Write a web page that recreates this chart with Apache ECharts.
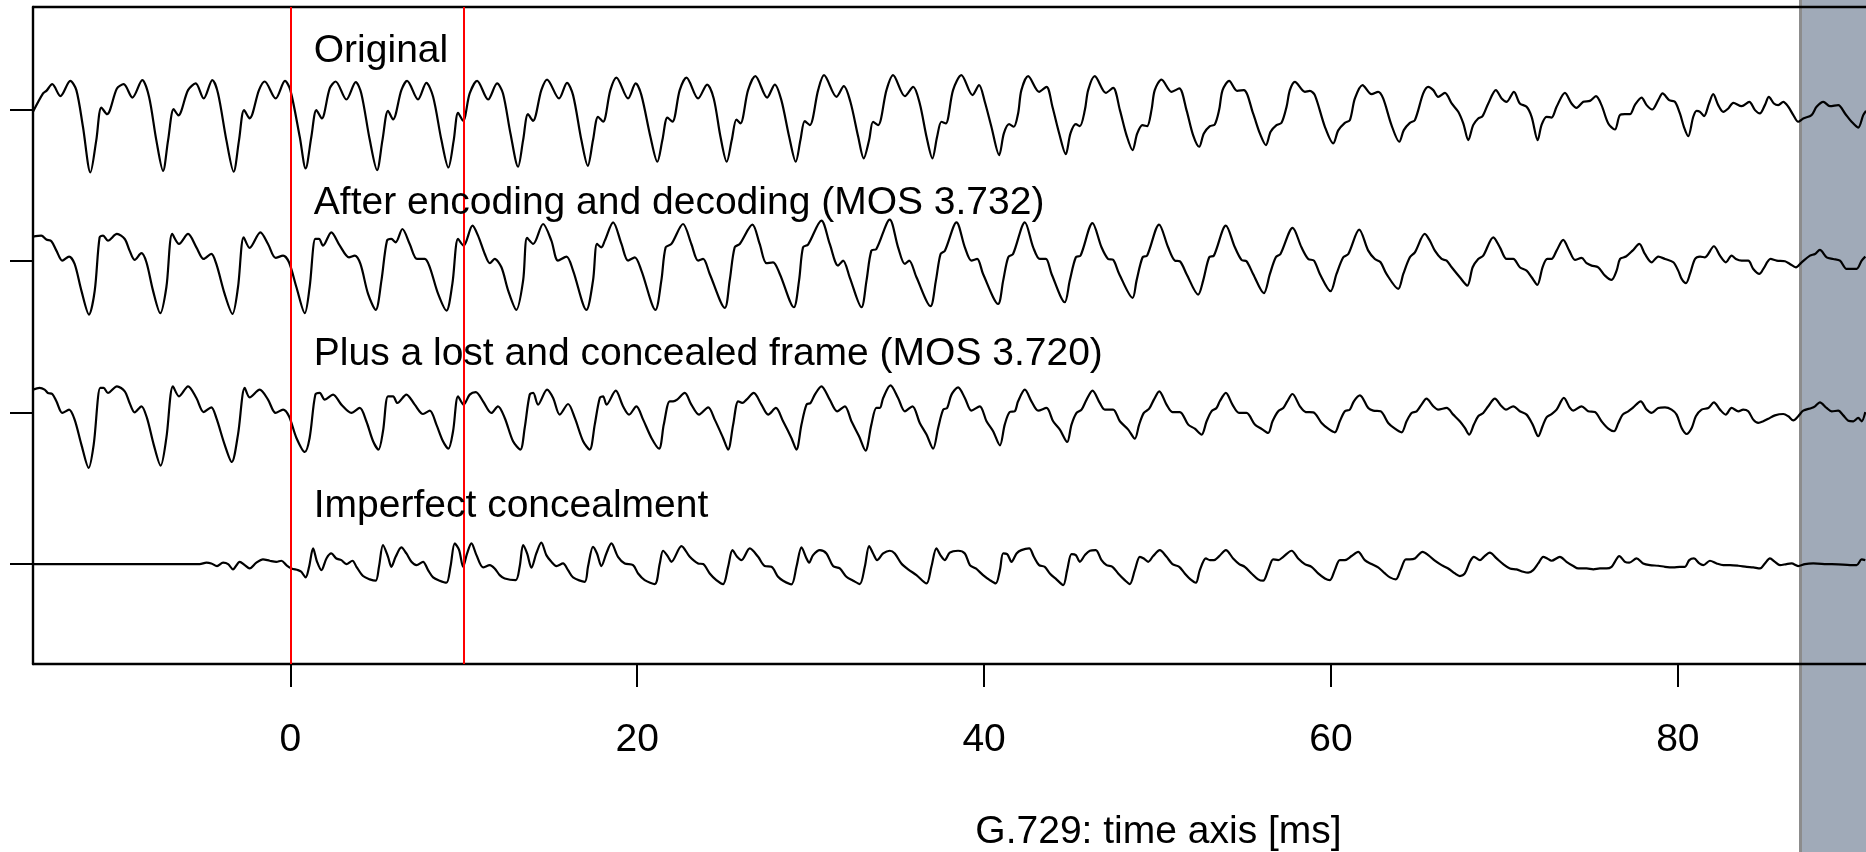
<!DOCTYPE html>
<html>
<head>
<meta charset="utf-8">
<script src="https://cdn.jsdelivr.net/npm/echarts@6/dist/echarts.min.js"></script>
<style>
html,body{margin:0;padding:0;background:#fff;}
#c{width:1866px;height:852px;}
</style>
</head>
<body>
<div id="c"></div>
<script>
// ---- data (time in ms, amplitude in arbitrary units; traces are stacked 100 units apart) ----
const xTicks = [0, 20, 40, 60, 80];
const traceOffsets = [300, 200, 100, 0];
const traceLabels = [
  'Original',
  'After encoding and decoding (MOS 3.732)',
  'Plus a lost and concealed frame (MOS 3.720)',
  'Imperfect concealment'
];
const lostFrame = [0, 10];
const axisTitle = 'G.729: time axis [ms]';

const original = [
[-14.84,-1.3],[-14.26,10.8],[-14.07,12.5],[-13.73,16.9],[-13.26,9.0],[-12.69,19.1],[-12.34,13],[-11.96,-11.2],[-11.53,-41.4],[-11.19,-20],
[-10.90,1.5],[-10.57,-2.9],[-10.0,14.1],[-9.61,16.9],[-9.11,8.1],[-8.54,19.6],[-8.15,8.6],[-7.73,-20],[-7.34,-40.3],[-7.05,-20],
[-6.73,0.4],[-6.46,-3.7],[-5.90,13],[-5.46,17.4],[-5.0,7.5],[-4.50,19.6],[-4.17,10.8],[-3.69,-20],[-3.27,-40.9],[-2.96,-20],
[-2.67,-0.2],[-2.35,-5.7],[-1.81,13],[-1.48,18.7],[-0.85,7.5],[-0.31,19.1],[0,13],[0.54,-17.8],[0.88,-38.7],[1.21,-17.8],
[1.50,-0.2],[1.81,-5.7],[2.27,14.1],[2.61,18.7],[3.23,6.8],[3.77,18.3],[4.09,10.8],[4.58,-20],[5.0,-39.8],[5.31,-20],
[5.63,-0.7],[5.92,-6.4],[6.40,13],[6.73,19.1],[7.36,6.8],[7.84,17.8],[8.23,8.6],[8.71,-20],[9.11,-38.1],[9.42,-20],
[9.67,-2],[9.96,-7.3],[10.34,10.8],[10.77,19.1],[11.40,6.8],[11.92,17.4],[12.26,10.8],[12.69,-15.6],[13.13,-37.6],[13.42,-20],
[13.70,-2.9],[13.99,-7.3],[14.47,13],[14.80,20],[15.49,7.5],[15.95,17.8],[16.30,9.7],[16.78,-20],[17.15,-37],[17.45,-20],
[17.74,-4.6],[18.03,-7.9],[18.45,13],[18.80,21.3],[19.47,7.5],[19.91,17.4],[20.24,9.7],[20.76,-17.8],[21.16,-34.3],[21.45,-20],
[21.74,-5.1],[22.03,-7.9],[22.45,13],[22.84,21.3],[23.51,7.5],[24.03,16.7],[24.41,7.5],[24.80,-17.8],[25.16,-34.3],[25.45,-20],
[25.72,-6.4],[25.95,-9],[26.39,13],[26.81,22.2],[27.49,8.1],[27.93,16.7],[28.31,6.4],[28.76,-17.8],[29.14,-34.3],[29.41,-20],
[29.66,-7.5],[29.95,-10.1],[30.43,13],[30.77,22.9],[31.49,8.6],[31.91,15.6],[32.29,5.3],[32.74,-17.8],[33.06,-32.1],[33.37,-20],
[33.60,-7.9],[33.89,-10.1],[34.37,13],[34.75,22.9],[35.43,9],[35.91,15.2],[36.29,4.2],[36.68,-17.8],[37.02,-32.1],[37.29,-17.8],
[37.54,-7.9],[37.79,-9],[38.21,13],[38.69,22.9],[39.33,9.7],[39.71,16.3],[40.04,5.3],[40.42,-11.2],[40.87,-29.9],[41.14,-15.6],
[41.44,-9.5],[41.71,-11.2],[41.96,-2.4],[42.15,13],[42.54,22.2],[43.17,11.9],[43.60,15.2],[43.94,2],[44.33,-15.6],[44.71,-29.3],
[44.98,-15.6],[45.29,-9.5],[45.52,-10.8],[45.81,-0.2],[46.0,13],[46.38,22.2],[47.02,11.2],[47.44,14.5],[47.83,-0.2],[48.21,-16.7],
[48.56,-26.6],[48.83,-15.6],[49.13,-10.1],[49.40,-10.8],[49.65,-0.2],[49.84,13],[50.23,20],[50.81,11.9],[51.25,14.1],[51.67,-0.2],
[52.05,-16.7],[52.40,-24.4],[52.67,-15.6],[53.02,-10.8],[53.30,-9.7],[53.55,-0.2],[53.75,13],[54.13,19.1],[54.59,12.5],[54.98,13],
[55.51,-2.4],[55.90,-15.6],[56.25,-23.3],[56.52,-14.5],[56.86,-10.1],[57.15,-8.6],[57.44,2],[57.63,13],[57.92,18.5],[58.50,11.9],
[58.78,12.5],[59.07,9.7],[59.65,-11.2],[60.13,-22.2],[60.42,-13.6],[60.80,-8.6],[61.09,-6.8],[61.38,7.5],[61.82,16.3],[62.34,10.3],
[62.72,11.9],[63.01,7.5],[63.49,-10.1],[63.94,-21.1],[64.20,-13.4],[64.55,-8.6],[64.84,-6.8],[65.32,10.8],[65.61,15.2],[65.90,13],
[66.18,8.6],[66.57,11.2],[66.96,4.2],[67.34,-1.3],[67.63,-9],[67.92,-20],[68.20,-10.1],[68.49,-5.7],[68.74,-4.2],[69.07,4.2],
[69.51,13],[69.84,7.5],[70.13,5.3],[70.55,11.9],[70.89,4.2],[71.28,2],[71.57,-4.6],[71.92,-20],[72.14,-10.1],[72.43,-4.6],
[72.72,-5.1],[73.01,2],[73.49,11.2],[73.87,4.2],[74.16,1.3],[74.55,5.3],[74.93,5.9],[75.28,9],[75.60,3.1],[75.99,-9],
[76.37,-13],[76.66,-3.5],[76.95,-2.9],[77.24,-2.9],[77.52,3.1],[77.91,8.1],[78.20,3.1],[78.52,0.2],[78.87,6.4],[79.12,10.8],
[79.50,6.4],[79.83,5.3],[80.12,-2.4],[80.35,-11.2],[80.60,-17.4],[80.89,-4.6],[81.08,-0.7],[81.28,-1.3],[81.51,-4.2],[81.80,4.2],
[82.04,10.3],[82.33,3.1],[82.62,-1.3],[82.91,0.9],[83.20,4.6],[83.68,2.4],[84.12,5.3],[84.45,-0.2],[84.73,-2.4],[85.02,3.1],
[85.25,8.6],[85.54,4.2],[85.79,3.1],[86.08,5.3],[86.37,2],[86.66,-3.5],[86.94,-7.9],[87.23,-5.7],[87.71,-3.5],[88.0,2],
[88.39,5.3],[88.77,2.4],[89.25,3.1],[89.64,-2.4],[90.02,-7.9],[90.40,-11.7],[90.69,-3.5],[90.85,-0.7]
];

const encodedDecoded = [
[-14.84,16.3],[-14.36,16.9],[-14.07,14.3],[-13.78,13.2],[-13.49,7],[-13.15,0.4],[-12.76,3.1],[-12.44,-1.8],[-12.05,-19.4],[-11.61,-35.2],
[-11.28,-19.4],[-11.0,15.8],[-10.80,16.9],[-10.52,13.6],[-10.0,18],[-9.55,14.7],[-9.27,7],[-8.98,0.9],[-8.59,5.3],[-8.30,-0.7],
[-7.92,-19.4],[-7.50,-34.3],[-7.15,-17.2],[-6.81,18],[-6.42,11.4],[-5.90,18],[-5.42,9.2],[-5.0,1.5],[-4.56,4.8],[-4.27,-1.8],
[-3.79,-21.6],[-3.34,-34.8],[-3.02,-17.2],[-2.69,15.8],[-2.35,8.8],[-1.73,19.1],[-1.29,11.4],[-0.85,2.2],[-0.42,3.7],[-0.08,-0.7],
[0.35,-17.2],[0.83,-34.3],[1.11,-17.2],[1.44,14.7],[1.65,14.7],[1.88,10.3],[2.36,19.1],[2.85,10.3],[3.38,2.6],[3.71,3.7],
[4.04,-1.8],[4.48,-21.6],[4.92,-32.1],[5.25,-12.8],[5.57,13.6],[5.82,14.7],[6.07,12.5],[6.46,21.3],[6.88,11.4],[7.30,1.5],
[7.75,1.5],[8.04,-4],[8.52,-21.6],[9.00,-32.6],[9.34,-15],[9.67,14.7],[9.99,10.3],[10.50,23.5],[10.82,16.9],[11.21,4.8],
[11.50,-1.3],[11.78,1.5],[12.17,-4],[12.56,-19.4],[13.03,-32.1],[13.42,-12.8],[13.65,15.4],[14.0,11.4],[14.57,24.6],[15.05,13.6],
[15.43,0.4],[15.92,3.1],[16.30,-6.2],[17.07,-32.1],[17.45,-12.8],[17.68,11.4],[17.93,9.2],[18.13,13.6],[18.61,25.7],[19.09,11.4],
[19.47,0.4],[19.86,2.6],[20.24,-6.2],[21.05,-32.1],[21.39,-12.8],[21.64,9.2],[21.97,11.4],[22.64,24.6],[23.12,11.4],[23.51,0.4],
[23.80,1.5],[24.18,-8.4],[25.05,-30.8],[25.33,-12.8],[25.62,9.2],[25.91,11.4],[26.64,24.2],[27.06,11.4],[27.45,-1.3],[27.83,-0.7],
[28.22,-8.4],[29.03,-30.4],[29.33,-12.8],[29.56,9.2],[29.85,11],[30.62,26.8],[31.10,11.4],[31.58,-2.9],[31.87,0.4],[32.25,-10.6],
[32.93,-30.4],[33.22,-12.8],[33.50,7],[33.79,8.1],[34.56,27.5],[35.04,9.2],[35.43,-1.8],[35.68,0.4],[36.10,-10.6],[36.91,-29.7],
[37.22,-12.8],[37.49,4.8],[37.74,7],[38.41,25.7],[38.89,9.2],[39.27,0.4],[39.60,1.5],[39.94,-8.4],[40.81,-28.2],[41.10,-12.8],
[41.39,2.6],[41.67,4.8],[42.35,25.7],[42.83,9.2],[43.21,1.5],[43.56,1.5],[43.89,-8.4],[44.65,-27.1],[44.94,-12.8],[45.29,2.6],
[45.56,3.7],[46.25,25.1],[46.77,9.2],[47.15,1.5],[47.44,0.9],[47.79,-8.4],[48.56,-24.2],[48.79,-12.8],[49.14,2.6],[49.40,3.7],
[50.09,24.2],[50.61,9.2],[51.0,0.4],[51.28,0],[51.67,-8.4],[52.34,-22],[52.63,-12.8],[52.98,2.6],[53.25,3.7],[53.94,23.5],
[54.46,9.2],[54.84,0.9],[55.13,0],[55.51,-8.4],[56.13,-21.1],[56.48,-8.4],[56.82,2.6],[57.09,4.8],[57.79,22],[58.30,9.2],
[58.69,1.5],[59.02,0.4],[59.36,-8.4],[59.98,-19.8],[60.32,-8.4],[60.71,2.6],[61.0,4.8],[61.63,20.9],[62.15,7],[62.53,1.5],
[62.86,-0.7],[63.20,-8.4],[63.88,-18.3],[64.17,-8.4],[64.55,2.6],[64.84,5.9],[65.41,18],[65.70,13.6],[65.99,7],[66.38,1.5],
[66.67,0.4],[66.96,-4],[67.43,-10.6],[67.86,-16.1],[68.17,-4],[68.49,1.5],[68.78,3.7],[69.36,15.8],[69.74,9.2],[70.13,1.5],
[70.51,1.5],[70.89,-4],[71.28,-6.2],[71.57,-10.6],[71.90,-15.6],[72.20,-4],[72.47,1.5],[72.72,1.5],[73.01,7],[73.39,14.1],
[73.74,7],[74.07,0.9],[74.45,2.2],[74.74,-1.3],[75.03,-2.9],[75.41,-4],[75.80,-9.5],[76.18,-12.3],[76.47,-6.2],[76.67,1.5],
[77.01,3.1],[77.39,7],[77.78,11.4],[78.10,4.8],[78.49,-0.7],[78.87,3.1],[79.26,1.5],[79.74,-0.7],[80.02,-6.2],[80.22,-11.7],
[80.47,-14.5],[80.70,-8.4],[80.99,1.5],[81.28,3.1],[81.56,2.6],[82.08,9.9],[82.43,3.7],[82.77,-0.7],[83.10,3.7],[83.35,1.5],
[83.68,0.4],[84.06,0.4],[84.35,-5.1],[84.70,-8.4],[84.93,-5.1],[85.35,1.5],[85.70,0.4],[86.18,0],[86.46,-1.8],[86.81,-4],
[87.14,-0.7],[87.62,3.7],[87.91,4.8],[88.19,7.5],[88.58,2.6],[88.96,1.5],[89.35,0.4],[89.73,-5.1],[90.02,-5.1],[90.31,-5.1],
[90.60,0.4],[90.81,3.1]
];

const lostConcealed = [
[-14.84,15.2],[-14.46,16.3],[-14.17,15.2],[-13.98,13],[-13.73,12.3],[-13.49,7.5],[-13.15,-0.2],[-12.76,2],[-12.44,-4.6],[-12.05,-21.1],
[-11.63,-36.5],[-11.34,-21.1],[-10.96,16.3],[-10.77,16.3],[-10.52,13],[-10.0,17.4],[-9.55,14.1],[-9.27,6.4],[-8.98,0.2],[-8.59,4.2],
[-8.27,-3.5],[-7.88,-21.1],[-7.48,-35],[-7.15,-16.7],[-6.77,17.4],[-6.42,10.8],[-5.90,17.4],[-5.42,9.7],[-5.0,0.4],[-4.56,3.5],
[-4.27,-3.5],[-3.79,-21.1],[-3.38,-32.6],[-3.02,-14.5],[-2.63,16.3],[-2.35,10.1],[-1.77,15.2],[-1.29,8.6],[-0.85,-0.2],[-0.42,2],
[-0.08,-2.4],[0.35,-16.7],[0.83,-26],[1.11,-16.7],[1.44,11.9],[1.69,13],[1.98,8.6],[2.46,11.9],[2.94,5.3],[3.52,-0.2],
[4.0,3.1],[4.38,-5.7],[4.77,-18.9],[5.08,-24.4],[5.34,-12.3],[5.63,10.8],[5.92,10.8],[6.17,6.4],[6.69,11.9],[7.17,5.3],
[7.65,-0.9],[8.04,1.3],[8.42,-7.9],[8.80,-18.9],[9.11,-23.8],[9.38,-12.3],[9.67,10.8],[9.99,5.3],[10.34,11.9],[10.69,13.6],
[11.11,7.5],[11.59,-0.2],[11.97,4.2],[12.36,-3.5],[12.84,-18.9],[13.26,-24.4],[13.51,-10.1],[13.80,11.9],[14.0,13],[14.28,5.3],
[14.80,15.2],[15.15,9.7],[15.53,-1.3],[16.01,5.7],[16.40,-3.5],[16.88,-18.9],[17.26,-24.4],[17.55,-7.9],[17.84,9.7],[18.03,10.8],
[18.23,5.3],[18.76,14.5],[19.18,4.2],[19.53,-1.3],[19.95,4.2],[20.34,-4.6],[20.82,-16.7],[21.26,-23.8],[21.53,-7.9],[21.87,7.5],
[22.07,7.5],[22.30,8.6],[22.74,13],[23.12,5.3],[23.56,-1.3],[24.09,3.5],[24.47,-4.6],[24.95,-16.7],[25.24,-24.4],[25.53,-7.9],
[25.82,7.5],[26.06,6.4],[26.30,8.6],[26.72,13],[27.16,5.3],[27.55,-1.3],[27.99,3.1],[28.41,-5.7],[28.89,-16.7],[29.18,-24.4],
[29.47,-7.9],[29.76,5.3],[29.99,6.4],[30.24,11.9],[30.62,17.4],[31.10,8.6],[31.53,0.9],[31.97,4.2],[32.35,-5.7],[32.79,-15.6],
[33.16,-25.1],[33.50,-7.9],[33.79,3.1],[33.99,3.1],[34.18,9.7],[34.60,18],[35.04,9.7],[35.43,0.9],[35.87,4.2],[36.29,-6.8],
[36.68,-14.5],[37.06,-23.8],[37.35,-10.1],[37.64,2],[37.87,3.1],[38.12,11.9],[38.50,16.7],[38.89,9.7],[39.27,1.3],[39.75,4.2],
[40.14,-5.7],[40.52,-12.3],[40.91,-21.6],[41.19,-7.9],[41.48,0.4],[41.77,0.9],[41.96,7.5],[42.35,15.2],[42.73,7.5],[43.12,1.3],
[43.60,3.1],[43.98,-5.7],[44.37,-11.2],[44.79,-19.4],[45.04,-7.9],[45.33,-0.2],[45.62,2],[45.91,8.6],[46.25,14.5],[46.67,6.4],
[46.96,2],[47.44,2],[47.83,-5.7],[48.31,-11.2],[48.69,-17.2],[48.94,-7.9],[49.21,-0.2],[49.52,2.6],[49.79,8.6],[50.10,14.1],
[50.52,5.3],[50.86,0.4],[51.29,0.4],[51.77,-7.9],[52.15,-10.6],[52.54,-14.5],[52.83,-5.7],[53.11,0.9],[53.40,3.1],[53.59,7.5],
[53.94,13],[54.32,5.3],[54.70,-0.2],[55.13,-0.2],[55.61,-7.9],[55.99,-10.6],[56.38,-13.4],[56.63,-5.7],[56.96,0.9],[57.25,3.1],
[57.48,7.5],[57.78,12.3],[58.21,4.2],[58.55,0.4],[58.98,0.2],[59.46,-6.8],[59.84,-10.6],[60.22,-13],[60.51,-5.7],[60.80,0.9],
[61.09,2],[61.32,7.5],[61.67,11.4],[62.15,3.1],[62.44,1.3],[62.86,0.9],[63.30,-6.8],[63.69,-10.6],[64.07,-13],[64.36,-5.7],
[64.65,-0.2],[64.94,0.9],[65.22,5.3],[65.51,9.2],[65.90,4.2],[66.18,2],[66.67,3.1],[67.05,-1.3],[67.43,-5.7],[67.72,-10.1],
[67.97,-14.5],[68.24,-7.9],[68.49,-2.4],[68.78,-0.2],[69.07,4.2],[69.45,9.2],[69.84,4.2],[70.09,2],[70.51,4.2],[70.89,0.9],
[71.28,-1.3],[71.63,-7.9],[71.95,-15.6],[72.20,-9],[72.43,-3.1],[72.72,-0.9],[73.01,2],[73.43,9.7],[73.78,3.1],[73.97,1.3],
[74.45,4.2],[74.83,0.9],[75.22,0.4],[75.60,-5.7],[75.99,-10.6],[76.32,-12.3],[76.57,-6.8],[76.82,-1.3],[77.14,0.9],[77.43,3.5],
[77.86,7.5],[78.20,2],[78.49,-0.2],[78.87,3.1],[79.26,3.5],[79.64,2],[79.93,-1.3],[80.22,-10.1],[80.51,-14.1],[80.80,-10.1],
[81.04,-2.4],[81.37,2],[81.76,3.1],[82.08,6.8],[82.43,2],[82.76,-1.3],[83.10,3.1],[83.49,0.9],[83.77,2],[84.06,0.9],
[84.35,-4.6],[84.64,-6.8],[84.93,-5.7],[85.22,-4],[85.60,-1.8],[86.08,-0.9],[86.37,-2.4],[86.66,-5.1],[86.94,-2.4],[87.23,1.3],
[87.71,3.1],[87.91,4.2],[88.19,6.8],[88.58,3.1],[88.87,0.9],[89.25,1.3],[89.54,-1.8],[89.83,-5.3],[90.12,-5.7],[90.40,-3.5],
[90.60,-5.7],[90.81,0.4]
];

const imperfect = [
[-14.84,0],[-5.23,0],[-4.84,0.9],[-4.56,0.4],[-4.23,-1.3],[-3.88,0.9],[-3.59,0],[-3.31,-3.5],[-2.92,1.5],[-2.63,-0.7],
[-2.35,-2.9],[-1.96,0.9],[-1.58,3.1],[-1.19,2.2],[-0.81,1.5],[-0.52,2.2],[-0.23,-0.7],[0.06,-2.9],[0.44,-4],[0.63,-5.1],
[0.88,-8.8],[1.08,-1.8],[1.31,10.3],[1.54,1.5],[1.79,-4],[2.08,3.7],[2.36,7],[2.65,3.7],[2.94,2.6],[3.23,0],
[3.58,2.2],[3.81,-1.8],[4.19,-7.9],[4.58,-10.1],[4.92,-11],[5.11,-1.8],[5.34,12.5],[5.63,4.8],[5.82,-1.8],[6.07,4.8],
[6.40,11],[6.69,7],[6.98,1.5],[7.27,-0.7],[7.65,1.5],[7.94,-4],[8.23,-8.8],[8.61,-11],[9.0,-12.3],[9.23,-1.8],
[9.48,13.6],[9.73,9.2],[9.96,-1.8],[10.19,7],[10.44,13.6],[10.73,5.9],[11.11,-2.2],[11.50,-0.7],[11.78,-2.9],[12.07,-7.3],
[12.36,-9.5],[12.99,-10.6],[13.22,-1.8],[13.42,12.5],[13.65,7],[13.90,-2.4],[14.18,7],[14.47,14.1],[14.76,5.9],[15.05,1.5],
[15.34,-1.3],[15.72,0.4],[16.01,-4],[16.30,-8.8],[16.97,-11.7],[17.16,-1.8],[17.45,11.4],[17.68,7],[17.93,-1.3],[18.22,7],
[18.51,13.6],[18.89,4.8],[19.28,0.4],[19.76,-0.7],[20.05,-6.2],[20.43,-10.6],[21.01,-13.2],[21.30,0.4],[21.49,8.8],[21.78,4.8],
[21.97,1.5],[22.55,11.9],[23.03,4.8],[23.51,0.4],[23.80,0],[24.18,-6.2],[24.56,-10.6],[24.95,-13.2],[25.24,-1.8],[25.49,9.2],
[25.76,4.8],[26.01,2.6],[26.49,10.3],[26.97,4.8],[27.35,-1.3],[27.74,-1.8],[28.12,-8.4],[28.41,-11],[28.89,-13.4],[29.18,-1.8],
[29.47,11],[29.76,3.7],[29.91,0.9],[30.14,5.9],[30.53,9.2],[30.91,7],[31.29,-1.3],[31.68,-2.9],[32.06,-8.4],[32.45,-11],
[32.83,-13.2],[33.12,-1.8],[33.37,11.9],[33.60,7],[33.83,2.6],[34.18,7],[34.56,8.8],[34.85,7],[35.23,0.4],[35.62,-3.5],
[36.10,-7.3],[36.68,-12.8],[36.96,-1.8],[37.25,10.3],[37.48,5.9],[37.73,2.6],[38.02,7.5],[38.50,8.8],[38.89,7],[39.18,-0.7],
[39.52,-2.9],[39.94,-7.3],[40.33,-10.6],[40.67,-12.8],[40.91,-4],[41.10,7],[41.33,6.6],[41.58,1.5],[41.87,7],[42.15,9.2],
[42.60,10.3],[42.87,4.8],[43.17,-0.7],[43.50,-1.8],[43.79,-6.2],[44.17,-10.1],[44.56,-13.9],[44.79,-4],[45.04,6.6],[45.29,5.9],
[45.52,1.5],[45.81,5.9],[46.10,8.8],[46.44,9.2],[46.77,2.6],[47.06,-0.7],[47.40,-1.8],[47.73,-6.2],[48.11,-10.6],[48.40,-13.2],
[48.69,-4],[48.98,4.8],[49.21,3.7],[49.46,1.5],[49.75,5.3],[50.13,9.2],[50.52,4.8],[50.86,0],[51.25,-1.8],[51.57,-6.2],
[51.90,-10.1],[52.21,-12.3],[52.44,-4],[52.79,3.7],[53.02,2.6],[53.25,2.6],[53.56,5.3],[53.94,9.2],[54.36,3.7],[54.71,0],
[55.03,-1.8],[55.42,-6.2],[55.80,-10.1],[56.09,-11],[56.38,-4],[56.67,3.1],[56.96,2.6],[57.25,4.8],[57.73,8.8],[58.11,3.7],
[58.49,0],[58.88,-1.8],[59.26,-6.2],[59.65,-9.5],[59.94,-10.6],[60.22,-4],[60.51,2.6],[60.80,2.6],[61.19,5.3],[61.57,8.1],
[61.95,2.6],[62.34,0],[62.72,-2.2],[63.11,-6.2],[63.40,-8.8],[63.74,-10.1],[64.01,-4],[64.32,3.1],[64.55,3.1],[64.84,3.7],
[65.28,8.1],[65.61,5.9],[65.99,2.2],[66.38,-0.7],[66.76,-2.9],[67.15,-6.2],[67.43,-7.9],[67.72,-6.2],[68.01,1.5],[68.24,4.8],
[68.59,2.6],[68.82,4.8],[69.16,7.5],[69.55,3.7],[69.93,0],[70.32,-2.9],[70.70,-3.5],[71.09,-5.1],[71.37,-5.7],[71.66,-4],
[71.95,0.4],[72.24,4.8],[72.47,3.7],[72.72,2.2],[73.20,4.8],[73.58,1.5],[73.97,-1.3],[74.26,-2.9],[74.74,-2.9],[75.13,-3.5],
[75.51,-2.9],[75.89,-2.9],[76.18,-1.8],[76.37,1.5],[76.62,5.3],[76.95,1.5],[77.20,0.9],[77.62,3.7],[78.0,0.4],[78.39,-0.7],
[78.87,-1.1],[79.26,-1.8],[79.74,-2.2],[80.12,-1.8],[80.41,-1.8],[80.66,2.6],[80.93,3.7],[81.24,0.4],[81.47,-0.7],[81.85,2.2],
[82.24,0.4],[82.62,-0.7],[83.01,-0.7],[83.49,-1.1],[83.97,-1.8],[84.35,-2.2],[84.74,-2.9],[85.02,0.4],[85.31,3.7],[85.60,1.5],
[85.89,-0.7],[86.27,0],[86.56,0.4],[86.94,-1.3],[87.33,0],[87.81,0.4],[88.58,0],[89.25,-0.2],[89.93,-0.7],[90.31,-0.7],
[90.60,3.1],[90.81,2.6]
];

// ---- chart ----
const FONT = "'Liberation Sans', Arial, Helvetica, sans-serif";
const FONT_SIZE = 39;
const X_MIN = -14.84, X_MAX = 90.85, Y_MIN = -66, Y_MAX = 367.9;
const traces = [original, encodedDecoded, lostConcealed, imperfect];

const chart = echarts.init(document.getElementById('c'), null, {renderer: 'canvas'});

const series = traces.map((d, i) => ({
  type: 'line',
  data: d.map(p => [p[0], p[1] + traceOffsets[i]]),
  symbol: 'none',
  showSymbol: false,
  smooth: 0.3,
  lineStyle: {color: '#000', width: 2.2},
  silent: true,
  z: 3,
  markLine: i === 0 ? {
    silent: true,
    symbol: ['none', 'none'],
    label: {show: false},
    lineStyle: {color: '#ff0000', width: 2, type: 'solid'},
    data: lostFrame.map(v => ({xAxis: v}))
  } : undefined
}));

series.push({
  type: 'scatter',
  symbolSize: 0,
  silent: true,
  z: 5,
  data: traceLabels.map((s, i) => [1.35, traceOffsets[i] + 38.5]),
  label: {
    show: true,
    position: 'right',
    distance: 0,
    formatter: p => traceLabels[p.dataIndex],
    color: '#000000',
    opacity: 1,
    fontSize: FONT_SIZE,
    fontFamily: FONT
  }
});

const axisLineStyle = {color: '#000', width: 2.4};

chart.setOption({
  animation: false,
  backgroundColor: '#ffffff',
  grid: {left: 33, right: 0, top: 7, bottom: 188, containLabel: false},
  xAxis: [{
    type: 'value', min: X_MIN, max: X_MAX, position: 'bottom',
    axisLine: {show: true, onZero: false, lineStyle: axisLineStyle},
    axisTick: {show: true, customValues: xTicks, length: 23, lineStyle: {color: '#000', width: 2}},
    axisLabel: {show: true, customValues: xTicks, margin: 57, color: '#000', fontSize: FONT_SIZE, fontFamily: FONT},
    splitLine: {show: false}
  }, {
    type: 'value', min: X_MIN, max: X_MAX, position: 'top',
    axisLine: {show: true, onZero: false, lineStyle: axisLineStyle},
    axisTick: {show: false}, axisLabel: {show: false}, splitLine: {show: false}
  }],
  yAxis: {
    type: 'value', min: Y_MIN, max: Y_MAX,
    axisLine: {show: true, onZero: false, lineStyle: axisLineStyle},
    axisTick: {show: true, customValues: traceOffsets, length: 23, lineStyle: {color: '#000', width: 2}},
    axisLabel: {show: false},
    splitLine: {show: false}
  },
  graphic: [
    {type: 'rect', z: -10, silent: true, shape: {x: 1800, y: 0, width: 66, height: 852}, style: {fill: '#a0aab8'}},
    {type: 'rect', z: -9, silent: true, shape: {x: 1799, y: 0, width: 3, height: 852}, style: {fill: '#8c8c8c'}},
    {type: 'text', z: 10, silent: true, x: 1158.5, y: 832,
      style: {text: axisTitle, fill: '#000', font: FONT_SIZE + 'px ' + FONT, textAlign: 'center', textVerticalAlign: 'middle', align: 'center', verticalAlign: 'middle'}}
  ],
  series: series
});
</script>
</body>
</html>
